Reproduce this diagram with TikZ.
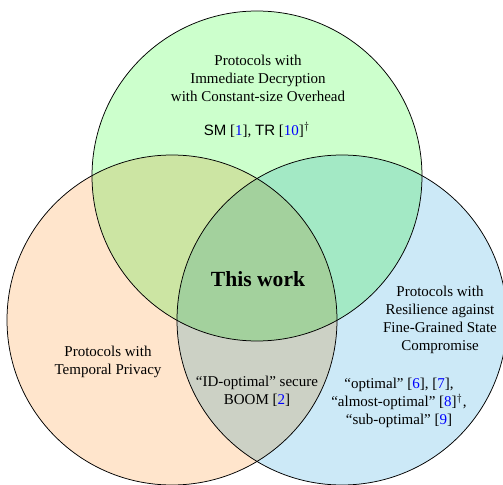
\documentclass[tikz,border=0pt]{standalone}
\usepackage{fontspec}
\setmainfont{Liberation Serif}
\setsansfont{Liberation Sans}
\definecolor{topfill}{RGB}{204,255,204}
\definecolor{leftfill}{RGB}{255,229,204}
\definecolor{rightfill}{RGB}{204,233,247}
\newcommand{\refnum}[1]{[\textcolor{blue}{#1}]}
\begin{document}
\begin{tikzpicture}[x=0.6667pt,y=0.6667pt]
\tikzstyle{setlabel} = [align=center, font=\normalsize, inner sep=0pt]
\tikzstyle{rim} = [draw=black, line width=0.5pt]

\useasboundingbox (0,0) rectangle (503,484);

\coordinate (T) at (257,308);
\coordinate (L) at (172,164);
\coordinate (R) at (342,164);

\begin{scope}[blend mode=multiply]
\fill[topfill] (T) circle (165);
\fill[leftfill] (L) circle (165);
\fill[rightfill] (R) circle (165);
\end{scope}

\draw[rim] (T) circle (165);
\draw[rim] (L) circle (165);
\draw[rim] (R) circle (165);

\node[setlabel] (immediate) at (258,406) {Protocols with\\Immediate Decryption\\with Constant-size Overhead};
\node[setlabel] (smtr) at (257,354) {\textsf{SM} \refnum{1}, \textsf{TR} \refnum{10}$^\dagger$};
\node[setlabel, font=\Large\bfseries] (work) at (258,205) {This work};
\node[setlabel] (temporal) at (108,122) {Protocols with\\Temporal Privacy};
\node[setlabel] (boom) at (257,93) {``ID-optimal'' secure\\BOOM \refnum{2}};
\node[setlabel] (resilience) at (440,164) {Protocols with\\Resilience against\\Fine-Grained State\\Compromise};
\node[setlabel] (optimal) at (399,81) {``optimal'' \refnum{6}, \refnum{7},\\``almost-optimal'' \refnum{8}$^\dagger$,\\``sub-optimal'' \refnum{9}};
\end{tikzpicture}
\end{document}
